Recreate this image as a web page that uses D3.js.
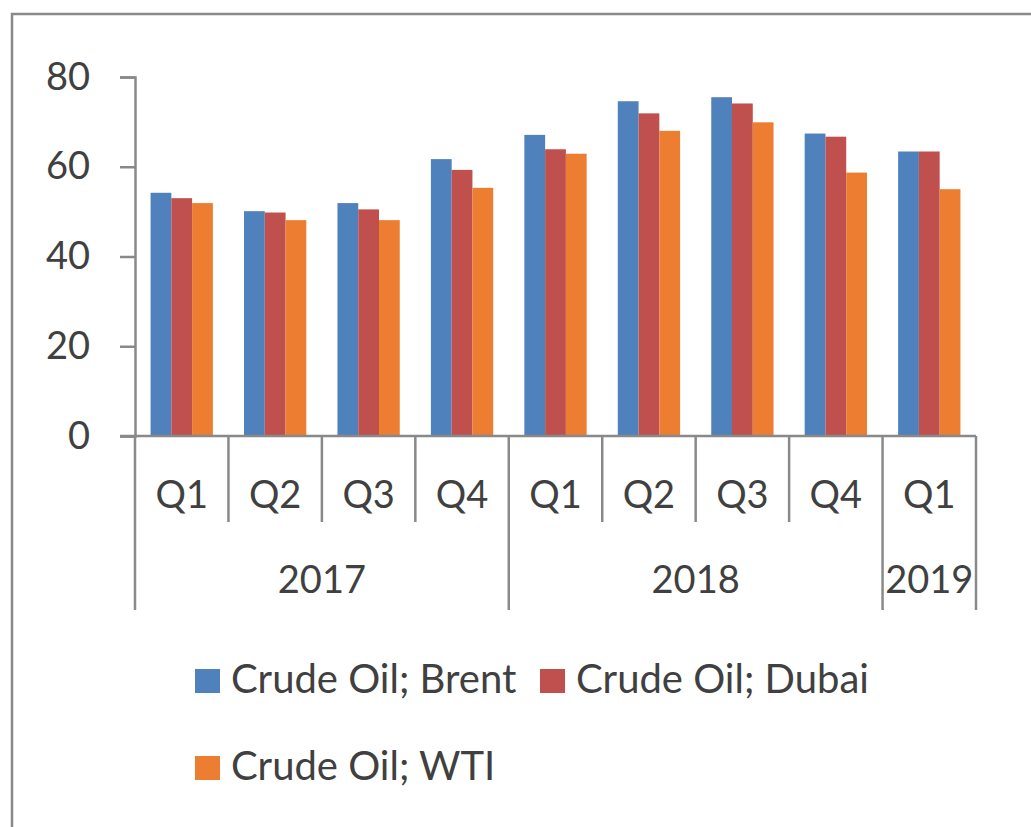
<!DOCTYPE html>
<html>
<head>
<meta charset="utf-8">
<script src="https://cdn.jsdelivr.net/npm/d3@7"></script>
<style>
  body { margin: 0; background: #fff; }
  text { font-family: Lato, "Liberation Sans", sans-serif; fill: #404040; }
</style>
</head>
<body>
<div id="chart"></div>
<script>
'use strict';

// Chart data
const quarters = ["Q1", "Q2", "Q3", "Q4", "Q1", "Q2", "Q3", "Q4", "Q1"];
const years = [
    { label: "2017", start: 0, end: 4 },
    { label: "2018", start: 4, end: 8 },
    { label: "2019", start: 8, end: 9 }
];
const seriesNames = ["Crude Oil; Brent", "Crude Oil; Dubai", "Crude Oil; WTI"];
const brent = [54.2, 50.1, 51.9, 61.7, 67.1, 74.6, 75.5, 67.4, 63.4];
const dubai = [53.0, 49.8, 50.5, 59.3, 63.9, 71.9, 74.1, 66.7, 63.4];
const wti = [51.9, 48.1, 48.1, 55.3, 62.9, 68.0, 69.9, 58.7, 55.0];
const yTicks = [0, 20, 40, 60, 80];
const colors = ["#4F81BD", "#C0504D", "#ED7D31"];

const W = 1031, H = 827;
const axisColor = "#898989";
const fontSize = 38;

const svg = d3.select("#chart").append("svg")
    .attr("width", W)
    .attr("height", H);

// outer frame (runs off the right and bottom of the picture)
svg.append("rect")
    .attr("x", 12).attr("y", 14)
    .attr("width", W + 20).attr("height", H + 20)
    .attr("fill", "none")
    .attr("stroke", axisColor)
    .attr("stroke-width", 2.5);

const plotLeft = 135, plotRight = 976, plotTop = 77, plotBottom = 436;

const idx = quarters.map((d, i) => i);
const x0 = d3.scaleBand().domain(idx).range([plotLeft, plotRight]).padding(0);
const x1 = d3.scaleBand().domain([0, 1, 2]).range([0, x0.bandwidth()])
    .paddingInner(0).paddingOuter(0.75);
const y = d3.scaleLinear().domain([0, 80]).range([plotBottom, plotTop]);

// bars
const table = [brent, dubai, wti];
const groups = svg.append("g").selectAll("g")
    .data(idx)
    .join("g")
    .attr("transform", i => `translate(${x0(i)},0)`);

groups.selectAll("rect")
    .data(i => table.map((s, k) => ({ k: k, v: s[i] })))
    .join("rect")
    .attr("x", d => x1(d.k))
    .attr("y", d => y(d.v))
    .attr("width", x1.bandwidth())
    .attr("height", d => y(0) - y(d.v))
    .attr("fill", d => colors[d.k]);

// y axis
const yAxis = svg.append("g")
    .attr("transform", `translate(${plotLeft},0)`)
    .call(d3.axisLeft(y).tickValues(yTicks).tickSize(15).tickPadding(30));
yAxis.select(".domain").attr("stroke", axisColor).attr("stroke-width", 2.5);
yAxis.selectAll(".tick line").attr("stroke", axisColor).attr("stroke-width", 2.5);
yAxis.selectAll(".tick text")
    .attr("font-size", fontSize)
    .attr("font-family", null)
    .attr("fill", "#404040");

// x axis line
svg.append("line")
    .attr("x1", plotLeft - 15).attr("x2", plotRight)
    .attr("y1", plotBottom).attr("y2", plotBottom)
    .attr("stroke", axisColor).attr("stroke-width", 2.5);

// separators
const yearEdges = new Set();
years.forEach(yr => { yearEdges.add(yr.start); yearEdges.add(yr.end); });
const xEdge = i => i < quarters.length ? x0(i) : plotRight;
svg.append("g").selectAll("line")
    .data(d3.range(quarters.length + 1))
    .join("line")
    .attr("x1", xEdge)
    .attr("x2", xEdge)
    .attr("y1", plotBottom)
    .attr("y2", i => yearEdges.has(i) ? 610 : 522)
    .attr("stroke", axisColor)
    .attr("stroke-width", 2.5);

// quarter labels
svg.append("g").selectAll("text")
    .data(idx)
    .join("text")
    .attr("x", i => x0(i) + x0.bandwidth() / 2)
    .attr("y", 508)
    .attr("text-anchor", "middle")
    .attr("font-size", fontSize)
    .text(i => quarters[i]);

// year labels
svg.append("g").selectAll("text")
    .data(years)
    .join("text")
    .attr("x", d => (xEdge(d.start) + xEdge(d.end)) / 2)
    .attr("y", 593)
    .attr("text-anchor", "middle")
    .attr("font-size", fontSize)
    .text(d => d.label);

// legend
const legendPos = [[195, 693], [540, 693], [195, 780]];
const legend = svg.append("g").selectAll("g")
    .data(seriesNames)
    .join("g")
    .attr("transform", (d, i) => `translate(${legendPos[i][0]},${legendPos[i][1]})`);
legend.append("rect")
    .attr("x", 0).attr("y", -24)
    .attr("width", 25).attr("height", 24)
    .attr("fill", (d, i) => colors[i]);
legend.append("text")
    .attr("x", 36).attr("y", 0)
    .attr("font-size", 40)
    .text(d => d);
</script>
</body>
</html>
